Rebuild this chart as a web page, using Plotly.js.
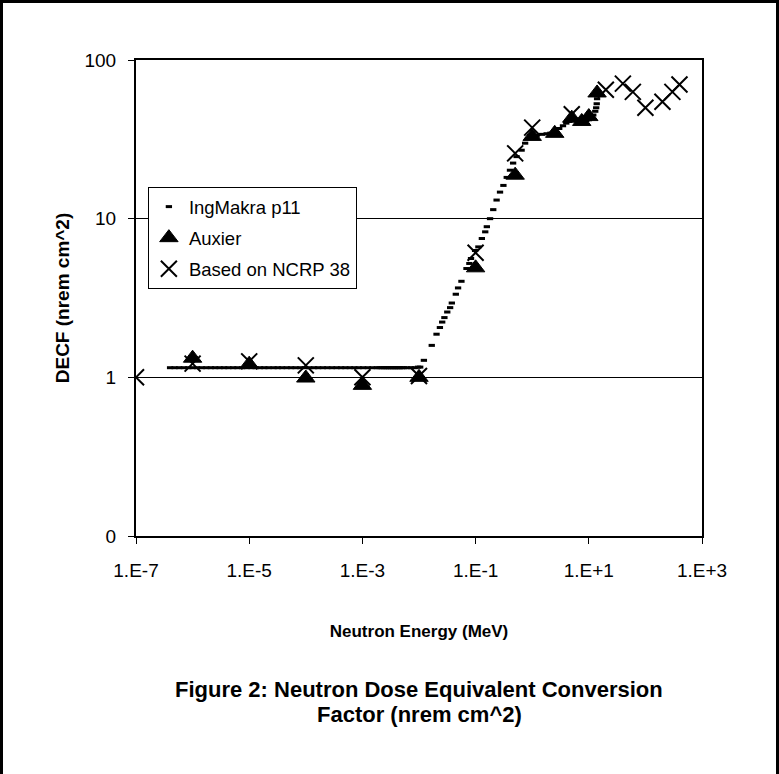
<!DOCTYPE html>
<html>
<head>
<meta charset="utf-8">
<script src="https://cdn.plot.ly/plotly-3.0.1.min.js"></script>
<style>
  html, body { margin: 0; padding: 0; background: #fff; }
  #chart { width: 779px; height: 774px; }
  #frame { position: absolute; left: 0; top: 0; width: 779px; height: 774px; box-sizing: border-box;
           border-left: 3px solid #000; border-top: 3px solid #000; border-right: 3px solid #000; pointer-events: none; }
</style>
</head>
<body>
<div id="chart"></div>
<div id="frame"></div>
<script>
// ---- IngMakra p11 ----
const ingEnergy = [
  4.0e-7, 4.8e-7, 5.8e-7, 7.0e-7, 8.4e-7, 1.0e-6, 1.2e-6, 1.45e-6, 1.75e-6, 2.1e-6,
  2.5e-6, 3.0e-6, 3.6e-6, 4.3e-6, 5.2e-6, 6.2e-6, 7.5e-6, 9.0e-6, 1.1e-5, 1.3e-5,
  1.55e-5, 1.85e-5, 2.2e-5, 2.7e-5, 3.2e-5, 3.8e-5, 4.6e-5, 5.5e-5, 6.6e-5, 8.0e-5,
  9.6e-5, 1.15e-4, 1.4e-4, 1.65e-4, 2.0e-4, 2.4e-4, 2.9e-4, 3.5e-4, 4.2e-4, 5.0e-4,
  6.0e-4, 7.2e-4, 8.6e-4, 1.03e-3, 1.25e-3, 1.5e-3, 1.8e-3, 2.0e-3, 2.2e-3, 2.4e-3,
  2.6e-3, 2.8e-3, 3.0e-3, 3.25e-3, 3.5e-3, 3.75e-3, 4.0e-3, 4.3e-3, 4.6e-3, 5.0e-3,
  5.4e-3, 6.2e-3, 7.2e-3, 8.4e-3, 9.6e-3, 1.05e-2,
  0.0122, 0.0168, 0.0204, 0.0234, 0.0257, 0.0281, 0.0316, 0.0355, 0.038, 0.0447,
  0.049, 0.0562, 0.069, 0.0776, 0.083, 0.098, 0.112, 0.129, 0.148, 0.158,
  0.18, 0.205, 0.235, 0.27, 0.31, 0.355, 0.405, 0.46, 0.53, 0.65,
  0.75, 0.85, 1.0, 1.2, 1.5, 1.8, 2.1, 2.5, 3.0, 3.5,
  4.0, 4.5, 5.0, 6.0, 7.0, 8.0, 9.0, 10.0, 11.0, 12.0,
  13.0, 13.5, 13.8, 14.0, 14.3
];
const ingDecf = [
  1.15, 1.15, 1.15, 1.15, 1.15, 1.15, 1.15, 1.15, 1.15, 1.15,
  1.15, 1.15, 1.15, 1.15, 1.15, 1.15, 1.15, 1.15, 1.15, 1.15,
  1.15, 1.15, 1.15, 1.15, 1.15, 1.15, 1.15, 1.15, 1.15, 1.15,
  1.15, 1.15, 1.15, 1.15, 1.15, 1.15, 1.15, 1.15, 1.15, 1.15,
  1.15, 1.15, 1.15, 1.15, 1.15, 1.15, 1.15, 1.15, 1.15, 1.15,
  1.15, 1.15, 1.15, 1.15, 1.15, 1.15, 1.15, 1.15, 1.15, 1.15,
  1.15, 1.15, 1.15, 1.15, 1.16, 1.16,
  1.28, 1.59, 1.87, 2.06, 2.23, 2.38, 2.58, 2.75, 2.94, 3.34,
  3.66, 4.03, 4.85, 5.22, 5.61, 6.3, 6.64, 7.5, 8.26, 8.9,
  10.0, 11.4, 13.1, 14.7, 16.2, 18.2, 20.2, 22.4, 24.6, 27.0,
  29.9, 32.0, 33.0, 33.5, 34.0, 34.3, 34.6, 35.0, 37.0, 38.5,
  40.0, 41.0, 42.0, 41.5, 41.0, 41.0, 41.5, 42.0, 43.0, 45.0,
  47.5, 50.0, 53.0, 57.0, 60.0
];

// ---- Auxier ----
const auxEnergy = [1e-6, 1e-5, 1e-4, 1e-3, 1e-2, 0.1, 0.5, 1, 2.5, 5, 7.5, 10, 14];
const auxDecf   = [1.32, 1.21, 0.99, 0.89, 1.0, 4.9, 18.8, 33.0, 34.5, 43.0, 41.0, 44.0, 62.0];

// ---- Based on NCRP 38 ----
const ncrpEnergy = [1e-7, 1e-6, 1e-5, 1e-4, 1e-3, 1e-2, 0.1, 0.5, 1, 5, 20, 40, 60, 100, 200, 300, 400];
const ncrpDecf   = [1.0, 1.22, 1.26, 1.19, 1.0, 1.02, 6.1, 25.8, 37.5, 45.5, 65.0, 71.0, 63.0, 50.0, 54.5, 63.0, 70.0];

// ---- axis ticks ----
const xTickVals = [1e-7, 1e-5, 1e-3, 1e-1, 1e1, 1e3];
const xTickText = ['1.E-7', '1.E-5', '1.E-3', '1.E-1', '1.E+1', '1.E+3'];
const yTickVals = [0.1, 1, 10, 100];
const yTickText = ['0', '1', '10', '100'];

const FONT = 'Arial, "Liberation Sans", sans-serif';

const traces = [
  {
    x: ingEnergy, y: ingDecf, name: 'IngMakra p11', type: 'scatter', mode: 'markers',
    legendgroup: 'a',
    marker: { symbol: 'line-ew', size: 4.5, color: '#000', line: { color: '#000', width: 3 } }
  },
  {
    x: auxEnergy, y: auxDecf, name: 'Auxier', type: 'scatter', mode: 'markers',
    legendgroup: 'b',
    marker: { symbol: 'triangle-up', size: 16, color: '#000', line: { color: '#000', width: 1 } }
  },
  {
    x: ncrpEnergy, y: ncrpDecf, name: 'Based on NCRP 38', type: 'scatter', mode: 'markers',
    legendgroup: 'c',
    marker: { symbol: 'x-thin', size: 16, color: '#000', line: { color: '#000', width: 2 } }
  }
];

const layout = {
  width: 779, height: 774,
  margin: { l: 136, r: 77, t: 60, b: 238, pad: 0 },
  paper_bgcolor: '#fff', plot_bgcolor: '#fff',
  font: { family: FONT, size: 16, color: '#000' },
  showlegend: true,
  legend: {
    x: 0.021, y: 0.733, xanchor: 'left', yanchor: 'top',
    bgcolor: '#fff', bordercolor: '#000', borderwidth: 1,
    font: { family: FONT, size: 18.5, color: '#000' },
    traceorder: 'grouped', tracegroupgap: 4, itemwidth: 30
  },
  xaxis: {
    type: 'log', range: [-7, 3],
    tickmode: 'array', tickvals: xTickVals, ticktext: xTickText,
    ticks: 'outside', ticklen: 6, tickwidth: 1, tickcolor: '#000',
    ticklabelstandoff: 10,
    tickfont: { family: FONT, size: 19, color: '#000' },
    showline: true, linewidth: 2, linecolor: '#000', mirror: true,
    showgrid: false, zeroline: false,
    title: { text: '<b>Neutron Energy (MeV)</b>', font: { family: FONT, size: 17, color: '#000' }, standoff: 45 }
  },
  yaxis: {
    type: 'log', range: [-1, 2],
    tickmode: 'array', tickvals: yTickVals, ticktext: yTickText,
    ticks: 'outside', ticklen: 6, tickwidth: 1, tickcolor: '#000',
    ticklabelstandoff: 8,
    tickfont: { family: FONT, size: 19, color: '#000' },
    showline: true, linewidth: 2, linecolor: '#000', mirror: true,
    showgrid: true, gridcolor: '#000', gridwidth: 1, zeroline: false,
    title: { text: '<b>DECF (nrem cm^2)</b>', font: { family: FONT, size: 19, color: '#000' }, standoff: 10 }
  },
  annotations: [
    {
      xref: 'paper', yref: 'paper', x: 0.5, y: (536 - 689) / 476, xanchor: 'center', yanchor: 'middle',
      showarrow: false, align: 'center',
      text: '<b>Figure 2: Neutron Dose Equivalent Conversion</b>',
      font: { family: FONT, size: 22, color: '#000' }
    },
    {
      xref: 'paper', yref: 'paper', x: 0.5, y: (536 - 714) / 476, xanchor: 'center', yanchor: 'middle',
      showarrow: false, align: 'center',
      text: '<b>Factor (nrem cm^2)</b>',
      font: { family: FONT, size: 22, color: '#000' }
    }
  ]
};

Plotly.newPlot('chart', traces, layout, { displayModeBar: false, staticPlot: true });
</script>
</body>
</html>
